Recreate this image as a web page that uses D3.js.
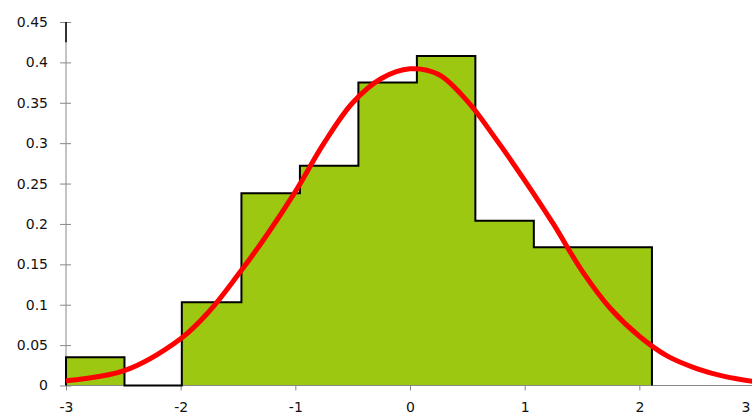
<!DOCTYPE html>
<html>
<head>
<meta charset="utf-8">
<script src="https://cdn.jsdelivr.net/npm/d3@7"></script>
<style>
  html, body { margin: 0; padding: 0; background: #fff; overflow: hidden; }
  svg { display: block; font-family: "DejaVu Sans", sans-serif; }
</style>
</head>
<body>
<div id="chart"></div>
<script>
// histogram bins (edges in x units) and their density heights
const binEdges = [-3, -2.49, -1.99, -1.47, -0.96, -0.45, 0.06, 0.57, 1.08, 1.59, 2.11];
const binHeights = [0.035, 0, 0.103, 0.238, 0.272, 0.375, 0.408, 0.204, 0.171, 0.171];

// fitted normal curve
const curveX = [-3, -2.5, -2, -1.75, -1.5, -1.25, -1, -0.75, -0.5, -0.25, 0, 0.25, 0.5, 0.75, 1, 1.25, 1.5, 1.75, 2, 2.25, 2.5, 2.75, 3];
const curveY = [0.006, 0.018, 0.058, 0.092, 0.137, 0.186, 0.24, 0.3, 0.35, 0.38, 0.392, 0.385, 0.352, 0.305, 0.254, 0.2, 0.142, 0.095, 0.061, 0.036, 0.021, 0.011, 0.005];

const yTicks = [0, 0.05, 0.1, 0.15, 0.2, 0.25, 0.3, 0.35, 0.4, 0.45];
const xTicks = [-3, -2, -1, 0, 1, 2, 3];

const width = 752, height = 414;

const x = d3.scaleLinear().domain([-3, 3]).range([66, 754]);
const y = d3.scaleLinear().domain([0, 0.45]).range([385.5, 22]);

const svg = d3.select("#chart").append("svg")
    .attr("width", width)
    .attr("height", height);

// step points: one per bin start, closed at the last edge
const steps = binHeights.map((h, i) => [binEdges[i], h])
    .concat([[binEdges[binEdges.length - 1], 0]]);

// green fill as one stepped area, so there are no seams between bars
svg.append("path")
    .datum(steps)
    .attr("fill", "#9cc812")
    .attr("d", d3.area().x(d => x(d[0])).y0(y(0)).y1(d => y(d[1])).curve(d3.curveStepAfter));

// axes
const gy = svg.append("g").attr("transform", `translate(${x(-3)},0)`)
    .call(d3.axisLeft(y).tickValues(yTicks).tickSize(6).tickFormat(d => String(d)));
gy.select(".domain").remove();
gy.selectAll(".tick line").attr("x2", 5).attr("x1", -6).attr("stroke", "#888");
gy.selectAll(".tick text").attr("x", -18).attr("font-size", 14)
    .attr("font-family", "DejaVu Sans, sans-serif").attr("fill", "#111");

svg.append("line")
    .attr("x1", x(-3)).attr("x2", x(-3))
    .attr("y1", y(0.45)).attr("y2", y(0))
    .attr("stroke", "#888").attr("stroke-width", 1);
svg.append("line")
    .attr("x1", x(-3)).attr("x2", x(-3))
    .attr("y1", y(0.45)).attr("y2", y(0.425))
    .attr("stroke", "#000").attr("stroke-width", 1.5);

const gx = svg.append("g").attr("transform", `translate(0,${y(0)})`)
    .call(d3.axisBottom(x).tickValues(xTicks).tickSize(5).tickFormat(d => String(d)));
gx.select(".domain").remove();
gx.selectAll(".tick line").attr("stroke", "#888");
gx.selectAll(".tick text").attr("y", 16.5).attr("font-size", 14)
    .attr("font-family", "DejaVu Sans, sans-serif").attr("fill", "#111");
// the last tick is just past the right edge, pull its label in so it stays readable
gx.selectAll(".tick text").filter(d => d === 3).attr("text-anchor", "end").attr("x", -4);

svg.append("line")
    .attr("x1", x(-3)).attr("x2", width)
    .attr("y1", y(0)).attr("y2", y(0))
    .attr("stroke", "#888").attr("stroke-width", 1);

// step outline of the histogram
svg.append("path")
    .datum([[binEdges[0], 0]].concat(steps))
    .attr("fill", "none")
    .attr("stroke", "#000")
    .attr("stroke-width", 2)
    .attr("d", d3.line().x(d => x(d[0])).y(d => y(d[1])).curve(d3.curveStepAfter));

// normal curve
svg.append("path")
    .datum(curveX.map((v, i) => [v, curveY[i]]))
    .attr("fill", "none")
    .attr("stroke", "#ff0000")
    .attr("stroke-width", 5)
    .attr("d", d3.line().x(d => x(d[0])).y(d => y(d[1])).curve(d3.curveCatmullRom));
</script>
</body>
</html>
